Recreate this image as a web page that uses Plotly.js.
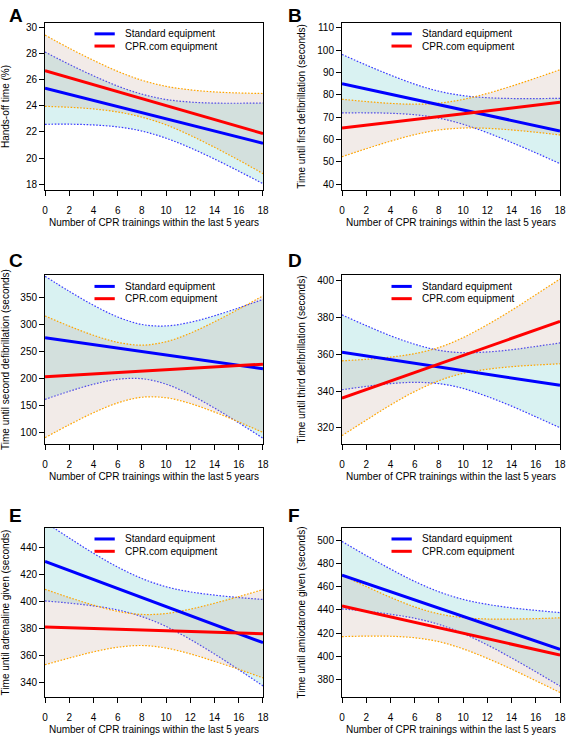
<!DOCTYPE html>
<html>
<head>
<meta charset="utf-8">
<script src="https://cdn.plot.ly/plotly-3.0.1.min.js"></script>
<style>html,body{margin:0;padding:0;background:#fff;}#chart{width:567px;height:737px;}</style>
</head>
<body>
<div id="chart"></div>
<script>
// Shared x values: number of CPR trainings within the last 5 years
const xTrain = [0, 2, 4, 6, 8, 10, 12, 14, 16, 18];
const xTicks = [0, 2, 4, 6, 8, 10, 12, 14, 16, 18];
const seriesNames = ['Standard equipment', 'CPR.com equipment'];
const panelLetters = ['A', 'B', 'C', 'D', 'E', 'F'];
const yTitles = [
  'Hands-off time (%)',
  'Time until first defibrillation (seconds)',
  'Time until second defibrillation (seconds)',
  'Time until third defibrillation (seconds)',
  'Time until adrenaline given (seconds)',
  'Time until amiodarone given (seconds)'
];
const yTickVals = [
  [18, 20, 22, 24, 26, 28, 30],
  [40, 50, 60, 70, 80, 90, 100, 110],
  [100, 150, 200, 250, 300, 350],
  [320, 340, 360, 380, 400],
  [340, 360, 380, 400, 420, 440],
  [380, 400, 420, 440, 460, 480, 500]
];

// Panel A: hands-off time (%)
const aStdFit = [25.37, 24.90, 24.43, 23.96, 23.49, 23.01, 22.54, 22.07, 21.60, 21.13];
const aStdHi  = [28.15, 27.20, 26.32, 25.53, 24.91, 24.50, 24.30, 24.22, 24.21, 24.23];
const aStdLo  = [22.59, 22.60, 22.54, 22.39, 22.07, 21.52, 20.78, 19.92, 18.99, 18.03];
const aComFit = [26.71, 26.17, 25.64, 25.10, 24.56, 24.03, 23.49, 22.95, 22.42, 21.88];
const aComHi  = [29.45, 28.44, 27.51, 26.66, 25.98, 25.51, 25.24, 25.08, 25.00, 24.96];
const aComLo  = [23.97, 23.90, 23.77, 23.54, 23.14, 22.55, 21.74, 20.82, 19.84, 18.80];

// Panel B: time until first defibrillation (s)
const bStdFit = [84.98, 82.63, 80.28, 77.93, 75.58, 73.23, 70.88, 68.53, 66.18, 63.83];
const bStdHi  = [98.03, 93.30, 88.81, 84.77, 81.60, 79.63, 78.70, 78.35, 78.31, 78.43];
const bStdLo  = [71.93, 71.96, 71.75, 71.09, 69.56, 66.83, 63.06, 58.71, 54.05, 49.23];
const bComFit = [65.17, 66.44, 67.72, 68.99, 70.27, 71.54, 72.82, 74.09, 75.37, 76.64];
const bComHi  = [78.02, 76.99, 76.17, 75.79, 76.27, 77.94, 80.62, 83.89, 87.47, 91.22];
const bComLo  = [52.32, 55.89, 59.27, 62.19, 64.27, 65.14, 65.02, 64.29, 63.27, 62.06];

// Panel C: time until second defibrillation (s)
const cStdFit = [275.9, 269.5, 263.1, 256.8, 250.4, 244.0, 237.6, 231.3, 224.9, 218.5];
const cStdHi  = [389.9, 362.1, 336.2, 314.5, 300.6, 297.9, 304.7, 316.8, 331.3, 347.0];
const cStdLo  = [161.9, 176.9, 190.0, 199.1, 200.2, 190.1, 170.5, 145.8, 118.5, 90.0];
const cComFit = [203.7, 206.3, 208.9, 211.5, 214.1, 216.8, 219.4, 222.0, 224.6, 227.2];
const cComHi  = [316.4, 297.6, 280.6, 267.6, 262.3, 268.7, 284.5, 305.6, 329.0, 353.7];
const cComLo  = [91.0, 115.0, 137.2, 155.4, 165.9, 164.9, 154.3, 138.4, 120.2, 100.7];

// Panel D: time until third defibrillation (s)
const dStdFit = [361.0, 359.0, 357.0, 355.0, 353.0, 351.1, 349.1, 347.1, 345.1, 343.1];
const dStdHi  = [381.3, 375.5, 370.0, 365.4, 362.1, 360.8, 361.2, 362.4, 364.2, 366.1];
const dStdLo  = [340.7, 342.5, 344.0, 344.7, 344.0, 341.4, 337.0, 331.8, 326.0, 320.1];
const dComFit = [336.1, 340.7, 345.4, 350.0, 354.6, 359.3, 363.9, 368.5, 373.2, 377.8];
const dComHi  = [356.4, 357.2, 358.4, 360.3, 363.6, 369.0, 376.0, 383.8, 392.3, 400.8];
const dComLo  = [315.8, 324.2, 332.4, 339.7, 345.6, 349.6, 351.8, 353.2, 354.1, 354.8];

// Panel E: time until adrenaline given (s)
const eStdFit = [429.6, 422.9, 416.2, 409.6, 402.9, 396.2, 389.5, 382.9, 376.2, 369.5];
const eStdHi  = [458.8, 447.0, 435.7, 425.5, 417.0, 410.9, 407.1, 404.7, 402.9, 401.5];
const eStdLo  = [400.4, 398.8, 396.7, 393.7, 388.8, 381.5, 371.9, 361.1, 349.5, 337.5];
const eComFit = [381.1, 380.5, 380.0, 379.4, 378.9, 378.3, 377.8, 377.2, 376.7, 376.1];
const eComHi  = [409.0, 402.9, 397.3, 392.7, 390.4, 391.1, 394.3, 398.7, 403.6, 408.8];
const eComLo  = [353.2, 358.1, 362.7, 366.1, 367.4, 365.5, 361.2, 355.7, 349.8, 343.4];

// Panel F: time until amiodarone given (s)
const fStdFit = [470.0, 462.9, 455.8, 448.7, 441.6, 434.4, 427.3, 420.2, 413.1, 406.0];
const fStdHi  = [499.1, 486.9, 475.3, 464.6, 455.7, 449.1, 444.8, 441.8, 439.6, 437.7];
const fStdLo  = [440.9, 438.9, 436.3, 432.8, 427.5, 419.7, 409.8, 398.6, 386.6, 374.3];
const fComFit = [443.5, 438.8, 434.1, 429.3, 424.6, 419.9, 415.2, 410.5, 405.7, 401.0];
const fComHi  = [470.0, 460.2, 450.9, 442.6, 436.6, 433.4, 432.2, 432.1, 432.5, 433.2];
const fComLo  = [417.0, 417.4, 417.3, 416.0, 412.6, 406.4, 398.2, 388.9, 378.9, 368.8];

const panelData = [
  {std: [aStdFit, aStdLo, aStdHi], com: [aComFit, aComLo, aComHi]},
  {std: [bStdFit, bStdLo, bStdHi], com: [bComFit, bComLo, bComHi]},
  {std: [cStdFit, cStdLo, cStdHi], com: [cComFit, cComLo, cComHi]},
  {std: [dStdFit, dStdLo, dStdHi], com: [dComFit, dComLo, dComHi]},
  {std: [eStdFit, eStdLo, eStdHi], com: [eComFit, eComLo, eComHi]},
  {std: [fStdFit, fStdLo, fStdHi], com: [fComFit, fComLo, fComHi]}
];

// ---- styling / layout (not data) ----
const yRanges = [[17.54, 30.38], [37.45, 112.1], [80.2, 391.3], [311.5, 402.7], [329.3, 454.4], [364.9, 510.7]];
const colDom = [[0.0794, 0.4638], [0.6032, 0.9877]];
const rowDom = [[0.7422, 0.9688], [0.3982, 0.6262], [0.0543, 0.2836]];
const stdLine = '#0000ff', comLine = '#ff0000';
const stdDot = '#3a3aff', comDot = '#ffa500';
const stdFill = 'rgba(64,191,191,0.20)', comFill = 'rgba(190,155,140,0.20)';
const FONT = 'Liberation Sans, Arial, Helvetica, sans-serif';
const DOTS = '1.6px,1.6px';

const traces = [];
const layout = {
  width: 567, height: 737,
  margin: {l: 0, r: 0, t: 0, b: 0},
  paper_bgcolor: '#fff', plot_bgcolor: '#fff',
  showlegend: false,
  font: {family: FONT, size: 10, color: '#000'},
  annotations: [], shapes: []
};

panelData.forEach((p, i) => {
  const n = i === 0 ? '' : String(i + 1);
  const xa = 'x' + n, ya = 'y' + n;
  const col = i % 2, row = Math.floor(i / 2);
  const band = (lo, hi, dotColor, fillColor, name) => {
    traces.push({x: xTrain, y: lo, xaxis: xa, yaxis: ya, mode: 'lines', name: name + ' lower 95% CI',
      line: {color: dotColor, width: 1.2, dash: DOTS, shape: 'spline', smoothing: 1}, hoverinfo: 'skip'});
    traces.push({x: xTrain, y: hi, xaxis: xa, yaxis: ya, mode: 'lines', name: name + ' upper 95% CI',
      fill: 'tonexty', fillcolor: fillColor,
      line: {color: dotColor, width: 1.2, dash: DOTS, shape: 'spline', smoothing: 1}, hoverinfo: 'skip'});
  };
  band(p.std[1], p.std[2], stdDot, stdFill, seriesNames[0]);
  band(p.com[1], p.com[2], comDot, comFill, seriesNames[1]);
  traces.push({x: xTrain, y: p.std[0], xaxis: xa, yaxis: ya, mode: 'lines', name: seriesNames[0],
    line: {color: stdLine, width: 3}});
  traces.push({x: xTrain, y: p.com[0], xaxis: xa, yaxis: ya, mode: 'lines', name: seriesNames[1],
    line: {color: comLine, width: 3}});

  layout['xaxis' + n] = {
    domain: colDom[col], anchor: ya, range: [0, 18],
    tickmode: 'array', tickvals: xTicks, ticktext: xTicks.map(String),
    ticks: 'outside', ticklen: 5, tickwidth: 1, tickcolor: '#000',
    ticklabelstandoff: 6,
    showline: true, linecolor: '#000', linewidth: 1, mirror: true,
    showgrid: false, zeroline: false,
    tickfont: {family: FONT, size: 10, color: '#000'},
    title: {text: 'Number of CPR trainings within the last 5 years', standoff: 4,
      font: {family: FONT, size: 10, color: '#000'}}
  };
  layout['yaxis' + n] = {
    domain: rowDom[row], anchor: xa, range: yRanges[i],
    tickmode: 'array', tickvals: yTickVals[i], ticktext: yTickVals[i].map(String),
    ticks: 'outside', ticklen: 5, tickwidth: 1, tickcolor: '#000',
    showline: true, linecolor: '#000', linewidth: 1, mirror: true,
    showgrid: false, zeroline: false,
    tickfont: {family: FONT, size: 10, color: '#000'},
    title: {text: yTitles[i], standoff: i === 0 ? 15 : 9,
      font: {family: FONT, size: 10, color: '#000'}}
  };

  // in-plot legend (two short lines plus labels)
  const legY = [0.935, 0.862];
  [stdLine, comLine].forEach((c, k) => {
    layout.shapes.push({type: 'line', xref: xa + ' domain', yref: ya + ' domain',
      x0: 0.227, x1: 0.32, y0: legY[k], y1: legY[k], line: {color: c, width: 3}});
    layout.annotations.push({xref: xa + ' domain', yref: ya + ' domain', x: 0.36, y: legY[k],
      xanchor: 'left', yanchor: 'middle', showarrow: false, text: seriesNames[k],
      font: {family: FONT, size: 10, color: '#000'}});
  });

  // panel letter
  layout.annotations.push({xref: 'paper', yref: 'paper',
    x: (col === 0 ? 7 : 286) / 567, y: 1 - ([3, 248, 503][row]) / 737,
    xanchor: 'left', yanchor: 'top', showarrow: false, text: '<b>' + panelLetters[i] + '</b>',
    font: {family: FONT, size: 19, color: '#000'}});
});

Plotly.newPlot('chart', traces, layout, {staticPlot: true, displayModeBar: false});
</script>
</body>
</html>
